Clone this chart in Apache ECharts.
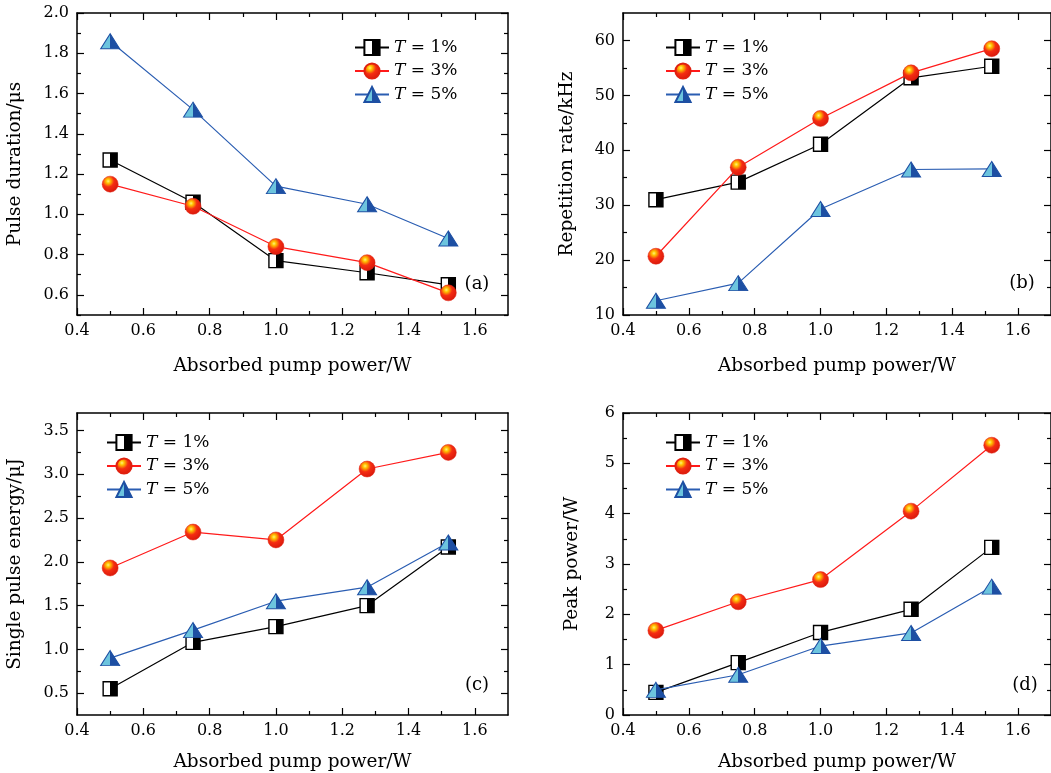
<!DOCTYPE html>
<html><head><meta charset="utf-8">
<script src="https://cdn.jsdelivr.net/npm/echarts@6/dist/echarts.min.js"></script>
<style>html,body{margin:0;padding:0;background:#fff}#c{width:1051px;height:773px}</style>
</head><body><div id="c"></div>
<script>
// ---------- data ----------
const xPower = [0.5, 0.75, 1.0, 1.275, 1.52];
const seriesNames = ['T = 1%', 'T = 3%', 'T = 5%'];
// (a) pulse duration / us
const pulseT1 = [1.27, 1.06, 0.77, 0.71, 0.65];
const pulseT3 = [1.15, 1.04, 0.84, 0.76, 0.61];
const pulseT5 = [1.86, 1.52, 1.14, 1.05, 0.88];
// (b) repetition rate / kHz
const repT1 = [31.0, 34.2, 41.1, 53.2, 55.3];
const repT3 = [20.7, 36.9, 45.8, 54.1, 58.5];
const repT5 = [12.6, 15.8, 29.3, 36.5, 36.6];
// (c) single pulse energy / uJ
const energyT1 = [0.55, 1.08, 1.26, 1.50, 2.17];
const energyT3 = [1.93, 2.34, 2.25, 3.06, 3.25];
const energyT5 = [0.90, 1.22, 1.55, 1.71, 2.22];
// (d) peak power / W
const peakT1 = [0.45, 1.04, 1.64, 2.10, 3.33];
const peakT3 = [1.68, 2.25, 2.69, 4.05, 5.36];
const peakT5 = [0.50, 0.80, 1.37, 1.63, 2.55];

// ---------- ticks ----------
const xMajorTicks = [0.4, 0.6, 0.8, 1.0, 1.2, 1.4, 1.6];
const xMinorTicks = [0.5, 0.7, 0.9, 1.1, 1.3, 1.5];
const yMajorA = [0.6, 0.8, 1.0, 1.2, 1.4, 1.6, 1.8, 2.0];
const yMinorA = [0.5, 0.7, 0.9, 1.1, 1.3, 1.5, 1.7, 1.9];
const yMajorB = [10, 20, 30, 40, 50, 60];
const yMinorB = [15, 25, 35, 45, 55];
const yMajorC = [0.5, 1.0, 1.5, 2.0, 2.5, 3.0, 3.5];
const yMinorC = [0.75, 1.25, 1.75, 2.25, 2.75, 3.25];
const yMajorD = [0, 1, 2, 3, 4, 5, 6];
const yMinorD = [0.5, 1.5, 2.5, 3.5, 4.5, 5.5];

const xTitle = 'Absorbed pump power/W';

const FONT = '"DejaVu Serif", "Liberation Serif", serif';

const panels = [
  {grid:{left:77, top:13, width:431, height:302}, ymin:0.5, ymax:2.0, yMaj:yMajorA, yMin:yMinorA, dec:1,
   yName:'Pulse duration/μs', yGap:52, xGap:42, legend:{left:354, top:38}, label:'(a)', lp:[477,284],
   vals:[pulseT1, pulseT3, pulseT5]},
  {grid:{left:623, top:13, width:429, height:302}, ymin:10, ymax:65, yMaj:yMajorB, yMin:yMinorB, dec:0,
   yName:'Repetition rate/kHz', yGap:46, xGap:42, legend:{left:665, top:38}, label:'(b)', lp:[1022,283],
   vals:[repT1, repT3, repT5]},
  {grid:{left:77, top:413, width:431, height:302}, ymin:0.25, ymax:3.7, yMaj:yMajorC, yMin:yMinorC, dec:1,
   yName:'Single pulse energy/μJ', yGap:52, xGap:38, legend:{left:106, top:433}, label:'(c)', lp:[477,685],
   vals:[energyT1, energyT3, energyT5]},
  {grid:{left:623, top:413, width:429, height:302}, ymin:0, ymax:6, yMaj:yMajorD, yMin:yMinorD, dec:0,
   yName:'Peak power/W', yGap:41, xGap:38, legend:{left:665, top:433}, label:'(d)', lp:[1025,685],
   vals:[peakT1, peakT3, peakT5]}
];

const lineCol = '#000';
const lineW = 1.5;

const symbolDefs = [
  {symbol:'rect', size:[14,14], lineColor:'#000',
   itemStyle:{color:{type:'linear',x:0,y:0,x2:1,y2:0,colorStops:[
     {offset:0,color:'#ffffff'},{offset:0.5,color:'#ffffff'},{offset:0.5,color:'#000000'},{offset:1,color:'#000000'}]},
     borderColor:'#000', borderWidth:1.4}},
  {symbol:'circle', size:16, lineColor:'#ff1a1a',
   itemStyle:{color:{type:'radial',x:0.38,y:0.32,r:0.7,colorStops:[
     {offset:0,color:'#fff27a'},{offset:0.18,color:'#ffc400'},{offset:0.5,color:'#f52d12'},{offset:1,color:'#d8180c'}]},
     borderColor:'#e0200f', borderWidth:0.5}},
  {symbol:'triangle', size:[19,15], lineColor:'#2a5db2',
   itemStyle:{color:{type:'linear',x:0,y:0,x2:1,y2:0,colorStops:[
     {offset:0,color:'#6cc4de'},{offset:0.5,color:'#6cc4de'},{offset:0.5,color:'#1d4fa3'},{offset:1,color:'#1d4fa3'}]},
     borderColor:'#1d4fa3', borderWidth:1}}
];

const grids = [], xAxes = [], yAxes = [], series = [], legends = [], graphics = [];

panels.forEach((p, gi) => {
  grids.push(Object.assign({containLabel:false}, p.grid));
  const xb = {gridIndex:gi, type:'value', min:0.4, max:1.7, splitLine:{show:false}, silent:true};
  const xIdx = xAxes.length;
  xAxes.push(Object.assign({}, xb, {position:'bottom', name:xTitle, nameLocation:'middle', nameGap:p.xGap,
    nameTextStyle:{fontFamily:FONT, fontSize:18.5, color:'#000'},
    axisLine:{show:true, onZero:false, lineStyle:{color:lineCol, width:lineW}},
    axisTick:{show:true, inside:true, length:7, customValues:xMajorTicks, lineStyle:{color:lineCol, width:1.2}},
    axisLabel:{show:true, customValues:xMajorTicks, formatter:v=>v.toFixed(1), margin:8, fontFamily:FONT, fontSize:16, color:'#000'}}));
  xAxes.push(Object.assign({}, xb, {position:'bottom', axisLine:{show:false, onZero:false},
    axisTick:{show:true, inside:true, length:4, customValues:xMinorTicks, lineStyle:{color:lineCol, width:1.2}},
    axisLabel:{show:false}}));
  xAxes.push(Object.assign({}, xb, {position:'top', axisLine:{show:true, onZero:false, lineStyle:{color:lineCol, width:lineW}},
    axisTick:{show:true, inside:true, length:7, customValues:xMajorTicks, lineStyle:{color:lineCol, width:1.2}},
    axisLabel:{show:false}}));
  xAxes.push(Object.assign({}, xb, {position:'top', axisLine:{show:false, onZero:false},
    axisTick:{show:true, inside:true, length:4, customValues:xMinorTicks, lineStyle:{color:lineCol, width:1.2}},
    axisLabel:{show:false}}));

  const yb = {gridIndex:gi, type:'value', min:p.ymin, max:p.ymax, splitLine:{show:false}, silent:true};
  const yIdx = yAxes.length;
  yAxes.push(Object.assign({}, yb, {position:'left', name:p.yName, nameLocation:'middle', nameGap:p.yGap,
    nameTextStyle:{fontFamily:FONT, fontSize:18.5, color:'#000'},
    axisLine:{show:true, onZero:false, lineStyle:{color:lineCol, width:lineW}},
    axisTick:{show:true, inside:true, length:7, customValues:p.yMaj, lineStyle:{color:lineCol, width:1.2}},
    axisLabel:{show:true, customValues:p.yMaj, formatter:v=>v.toFixed(p.dec), margin:8, fontFamily:FONT, fontSize:16, color:'#000'}}));
  yAxes.push(Object.assign({}, yb, {position:'left', axisLine:{show:false, onZero:false},
    axisTick:{show:true, inside:true, length:4, customValues:p.yMin, lineStyle:{color:lineCol, width:1.2}},
    axisLabel:{show:false}}));
  yAxes.push(Object.assign({}, yb, {position:'right', axisLine:{show:true, onZero:false, lineStyle:{color:lineCol, width:lineW}},
    axisTick:{show:true, inside:true, length:7, customValues:p.yMaj, lineStyle:{color:lineCol, width:1.2}},
    axisLabel:{show:false}}));
  yAxes.push(Object.assign({}, yb, {position:'right', axisLine:{show:false, onZero:false},
    axisTick:{show:true, inside:true, length:4, customValues:p.yMin, lineStyle:{color:lineCol, width:1.2}},
    axisLabel:{show:false}}));

  p.vals.forEach((vals, si) => {
    const sd = symbolDefs[si];
    series.push({
      type:'line', name:seriesNames[si], xAxisIndex:xIdx, yAxisIndex:yIdx,
      data: xPower.map((x, i) => [x, vals[i]]),
      symbol: sd.symbol, symbolSize: sd.size, itemStyle: sd.itemStyle,
      lineStyle:{color: sd.lineColor, width:1.2},
      emphasis:{disabled:true}, animation:false, z: 2 + si
    });
  });

  legends.push({
    left:p.legend.left, top:p.legend.top, orient:'vertical', padding:0, itemWidth:34, itemHeight:19, itemGap:4.5,
    data: seriesNames, selectedMode:false,
    formatter: n => n.replace('T', '{i|T}'),
    textStyle:{fontFamily:FONT, fontSize:17, color:'#000', lineHeight:19,
      rich:{i:{fontFamily:FONT, fontStyle:'italic', fontSize:17, color:'#000'}}}
  });

  graphics.push({type:'text', x:p.lp[0], y:p.lp[1], silent:true,
    style:{text:p.label, font:'18px ' + FONT, fill:'#000', align:'center', verticalAlign:'middle'}});
});

const chart = echarts.init(document.getElementById('c'), null, {renderer:'canvas'});
chart.setOption({
  backgroundColor:'#fff', animation:false,
  grid:grids, xAxis:xAxes, yAxis:yAxes, series:series, legend:legends, graphic:graphics
});
</script>
</body></html>
